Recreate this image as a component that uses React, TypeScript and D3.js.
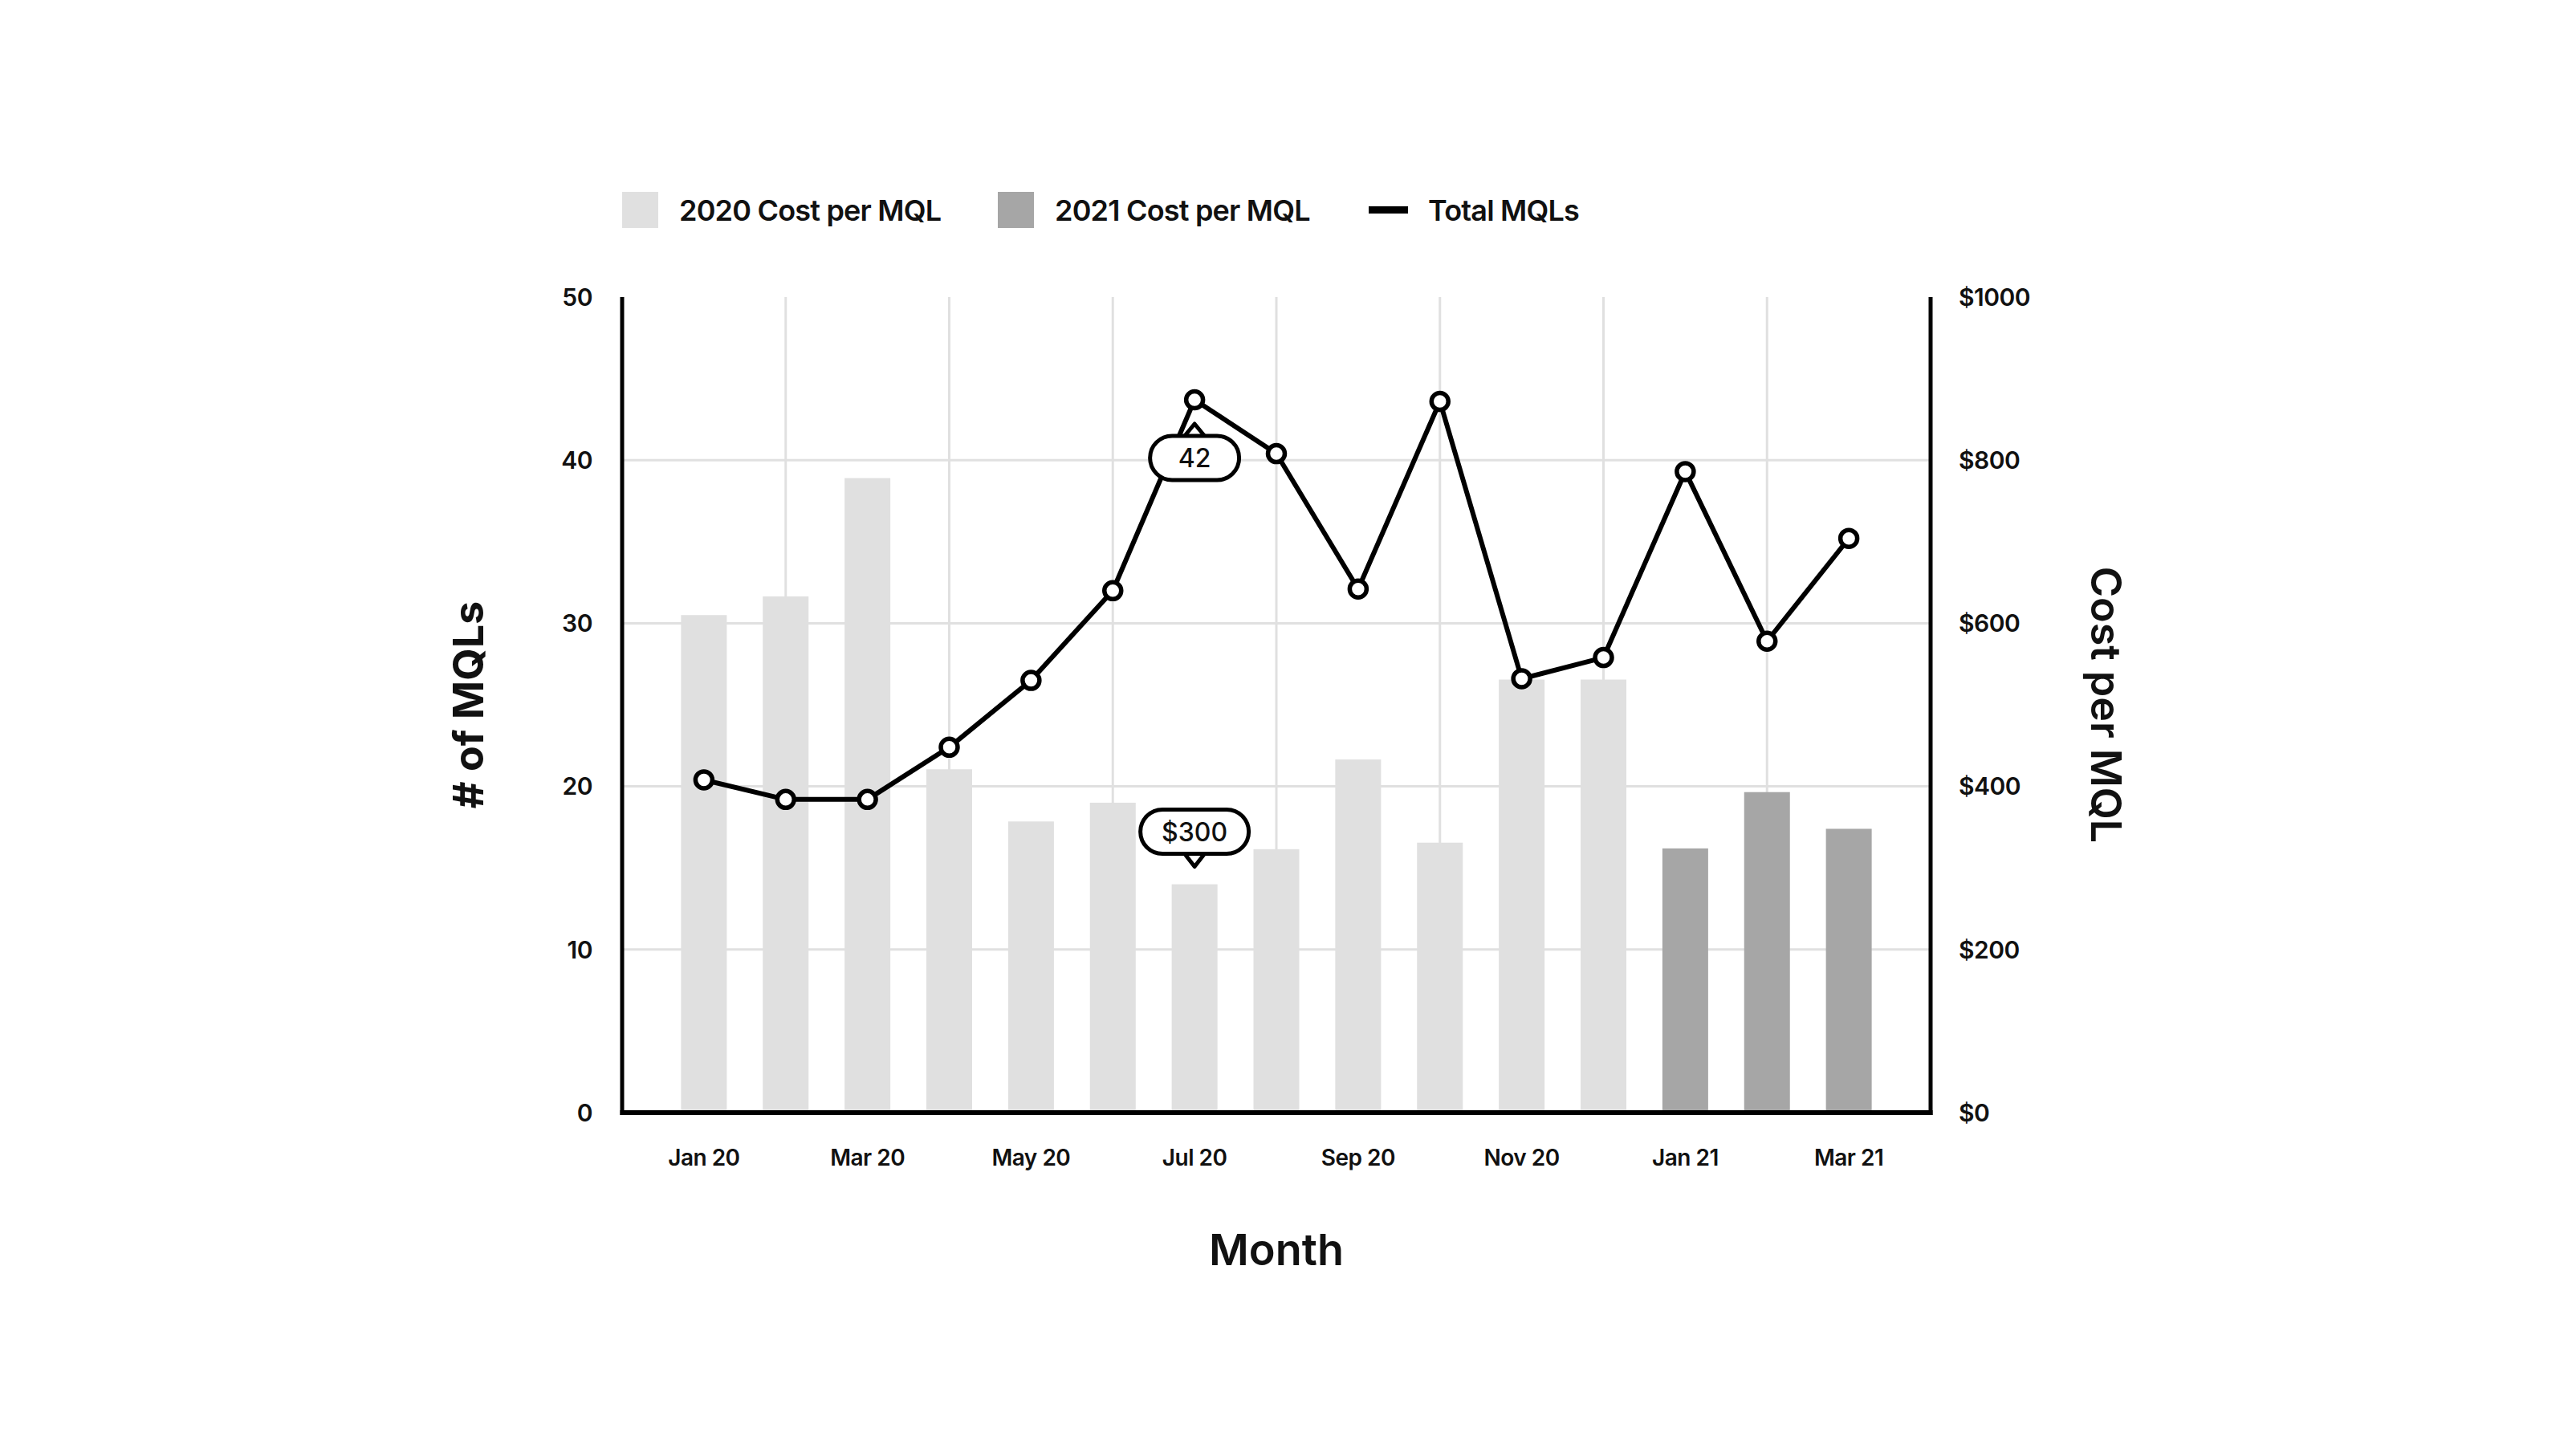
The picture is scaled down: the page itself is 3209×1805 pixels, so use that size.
import React from 'react';
import * as d3 from 'd3';

const months = [
  'Jan 20', 'Feb 20', 'Mar 20', 'Apr 20', 'May 20', 'Jun 20', 'Jul 20', 'Aug 20',
  'Sep 20', 'Oct 20', 'Nov 20', 'Dec 20', 'Jan 21', 'Feb 21', 'Mar 21',
];
// cost per MQL in dollars (bars, right axis)
const costPerMql = [610, 633, 778, 421, 357, 380, 280, 323, 433, 331, 531, 531, 324, 393, 348];
// total MQLs (line, left axis)
const totalMqls = [20.4, 19.2, 19.2, 22.4, 26.5, 32.0, 43.7, 40.4, 32.1, 43.6, 26.6, 27.9, 39.3, 28.9, 35.2];

const leftTicks = [0, 10, 20, 30, 40, 50];
const rightTicks = [0, 200, 400, 600, 800, 1000];
const gridTicks = [10, 20, 30, 40];

const legendItems = ['2020 Cost per MQL', '2021 Cost per MQL', 'Total MQLs'];

// callouts shown on the chart
const mqlCallout = { month: 'Jul 20', text: '42' };
const costCallout = { month: 'Jul 20', text: '$300' };

const W = 3209;
const H = 1805;
const FONT = 'Inter, "Open Sans", sans-serif';
const C2020 = '#e0e0e0';
const C2021 = '#a6a6a6';
const GRID = '#e0e0e0';

const App: React.FC = () => {
  const left = 775;
  const right = 2405;
  const top = 370;
  const bottom = 1386;

  const x = d3.scalePoint<string>().domain(months).range([left, right]).padding(1);
  const yL = d3.scaleLinear().domain([0, 50]).range([bottom, top]);
  const yR = d3.scaleLinear().domain([0, 1000]).range([bottom, top]);
  const barW = 57;

  const line = d3.line<number>()
    .x((_, i) => x(months[i])!)
    .y(d => yL(d));

  // callout geometry
  const mi = months.indexOf(mqlCallout.month);
  const mqlX = x(mqlCallout.month)!;
  const mqlTip = yL(totalMqls[mi]) + 30;
  const pill1 = { w: 111, h: 55, y: mqlTip + 15 };

  const ci = months.indexOf(costCallout.month);
  const costX = x(costCallout.month)!;
  const costTip = yR(costPerMql[ci]) - 22;
  const pill2 = { w: 135, h: 55, y: costTip - 16 - 55 };

  return (
    <div style={{ position: 'absolute', left: 0, top: 0 }}>
      <svg width={W} height={H} style={{ display: 'block', background: '#fff' }} fontFamily={FONT}>
        {/* legend */}
        <g fontSize={36} fontWeight={600} fill="#111" letterSpacing={-0.8}>
          <rect x={775} y={239} width={45} height={45} fill={C2020} />
          <text x={846} y={275}>{legendItems[0]}</text>
          <rect x={1243} y={239} width={45} height={45} fill={C2021} />
          <text x={1314} y={275}>{legendItems[1]}</text>
          <rect x={1705} y={257} width={49} height={9} fill="#000" />
          <text x={1779} y={275}>{legendItems[2]}</text>
        </g>

        {/* grid */}
        <g stroke={GRID} strokeWidth={3}>
          {gridTicks.map(t => (
            <line key={'h' + t} x1={left} x2={right} y1={yL(t)} y2={yL(t)} />
          ))}
          {months.map((m, i) => i % 2 === 1 ? (
            <line key={'v' + m} x1={x(m)} x2={x(m)} y1={top} y2={bottom} />
          ) : null)}
        </g>

        {/* bars */}
        <g>
          {months.map((m, i) => (
            <rect
              key={m}
              x={x(m)! - barW / 2}
              y={yR(costPerMql[i])}
              width={barW}
              height={bottom - yR(costPerMql[i])}
              fill={m.endsWith('21') ? C2021 : C2020}
            />
          ))}
        </g>

        {/* axes */}
        <g stroke="#000">
          <line x1={left} x2={left} y1={top} y2={bottom + 3} strokeWidth={5} />
          <line x1={right} x2={right} y1={top} y2={bottom + 3} strokeWidth={5} />
          <line x1={left - 2.5} x2={right + 2.5} y1={bottom} y2={bottom} strokeWidth={6} />
        </g>

        {/* tick labels */}
        <g fontSize={30} fontWeight={600} fill="#111" letterSpacing={-0.5}>
          {leftTicks.map(t => (
            <text key={'l' + t} x={738} y={yL(t)} dy="0.36em" textAnchor="end">{t}</text>
          ))}
          {rightTicks.map(t => (
            <text key={'r' + t} x={2440} y={yR(t)} dy="0.36em">{'$' + t}</text>
          ))}
        </g>
        <g fontSize={28} fontWeight={600} fill="#111" letterSpacing={-0.5}>
          {months.map((m, i) => i % 2 === 0 ? (
            <text key={'x' + m} x={x(m)} y={1452} textAnchor="middle">{m}</text>
          ) : null)}
        </g>

        {/* axis titles */}
        <text
          transform={`translate(583,${(top + bottom) / 2}) rotate(-90)`}
          textAnchor="middle" dy="0.36em" fontSize={52} fontWeight={700} fill="#111"
        >
          # of MQLs
        </text>
        <text
          transform={`translate(2624,${(top + bottom) / 2}) rotate(90)`}
          textAnchor="middle" dy="0.36em" fontSize={52} fontWeight={600} fill="#111"
        >
          Cost per MQL
        </text>
        <text x={(left + right) / 2} y={1576} textAnchor="middle" fontSize={54} fontWeight={600} fill="#111">
          Month
        </text>

        {/* line */}
        <path d={line(totalMqls) || ''} fill="none" stroke="#000" strokeWidth={6} strokeLinejoin="round" />
        <g>
          {totalMqls.map((v, i) => (
            <circle key={i} cx={x(months[i])} cy={yL(v)} r={10.5} fill="#fff" stroke="#000" strokeWidth={5.5} />
          ))}
        </g>

        {/* callouts */}
        <g stroke="#000" strokeWidth={5} fill="#fff">
          <path d={`M${mqlX - 14},${pill1.y + 2} L${mqlX},${mqlTip} L${mqlX + 14},${pill1.y + 2}Z`} strokeLinejoin="round" />
          <rect x={mqlX - pill1.w / 2} y={pill1.y} width={pill1.w} height={pill1.h} rx={pill1.h / 2} />
          <path d={`M${costX - 14},${costTip - 16 - 2} L${costX},${costTip} L${costX + 14},${costTip - 16 - 2}Z`} strokeLinejoin="round" />
          <rect x={costX - pill2.w / 2} y={pill2.y} width={pill2.w} height={pill2.h} rx={pill2.h / 2} />
        </g>
        <g fontSize={32} fontWeight={500} fill="#111" textAnchor="middle">
          <text x={mqlX} y={pill1.y + pill1.h / 2} dy="0.36em">{mqlCallout.text}</text>
          <text x={costX} y={pill2.y + pill2.h / 2} dy="0.36em">{costCallout.text}</text>
        </g>
      </svg>
    </div>
  );
};

export default App;
